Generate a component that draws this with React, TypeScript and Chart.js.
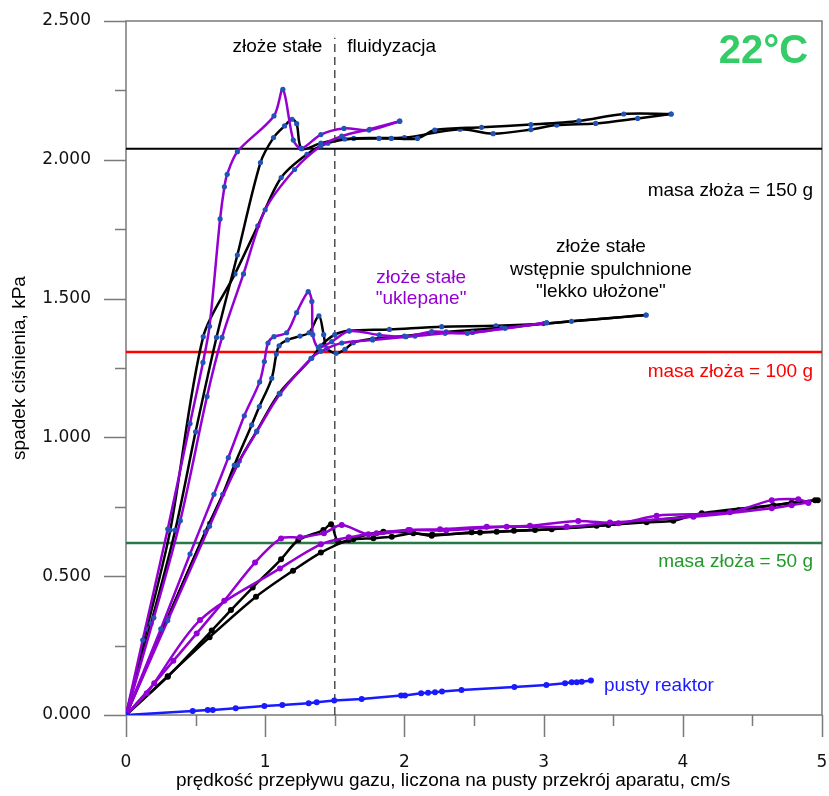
import React, { useEffect, useRef } from 'react';
import { Chart, registerables } from 'chart.js';

Chart.register(...registerables);

type P = [number, number];

// ---- axis ticks ----
const xMin = 0, xMax = 5, xStep = 0.5;
const yMin = 0, yMax = 2.5, yStep = 0.25;

// ---- reference levels (bed weight) ----
const level150 = 2.04;
const level100 = 1.308;
const level50 = 0.62;
const fluidX = 1.5;

// ---- 150 g ----
const p150Up: P[] = [[0,0],[0.12,0.27],[0.30,0.67],[0.46,1.05],[0.553,1.27],[0.60,1.40],[0.676,1.787],[0.707,1.903],[0.727,1.948],[0.80,2.029],[1.063,2.158],[1.127,2.254],[1.202,2.071],[1.26,2.041],[1.40,2.091],[1.566,2.113],[1.746,2.107],[1.966,2.139]];
const p150Down: P[] = [[1.966,2.139],[1.75,2.11],[1.55,2.085],[1.40,2.05],[1.211,1.965],[1.0,1.82],[0.844,1.589],[0.69,1.36],[0.582,1.147],[0.39,0.70],[0.2,0.35],[0,0]];
const b150Up: P[] = [[0,0],[0.18,0.33],[0.354,0.666],[0.50,1.02],[0.65,1.36],[0.80,1.657],[0.966,1.99],[1.06,2.08],[1.139,2.122],[1.193,2.146],[1.226,2.13],[1.262,2.04],[1.40,2.06],[1.571,2.075],[1.818,2.077],[1.906,2.077],[2.094,2.077],[2.218,2.107],[2.554,2.117],[2.909,2.127],[3.254,2.14],[3.576,2.165],[3.916,2.165]];
const b150Down: P[] = [[3.916,2.165],[3.676,2.149],[3.374,2.131],[3.094,2.125],[2.909,2.109],[2.638,2.094],[2.40,2.11],[2.00,2.08],[1.636,2.077],[1.45,2.06],[1.30,2.02],[1.115,1.936],[0.947,1.762],[0.783,1.589],[0.555,1.363],[0.318,0.666],[0.15,0.31],[0,0]];

// ---- 100 g ----
const p100Up: P[] = [[0,0],[0.25,0.31],[0.46,0.58],[0.632,0.795],[0.735,0.927],[0.85,1.078],[0.96,1.20],[0.994,1.273],[1.02,1.34],[1.063,1.363],[1.154,1.377],[1.226,1.45],[1.309,1.525],[1.335,1.49],[1.342,1.37],[1.382,1.324],[1.478,1.345],[1.604,1.383],[1.82,1.369],[2.011,1.363],[2.196,1.381],[2.452,1.375],[2.723,1.393],[3.022,1.413]];
const p100Down: P[] = [[3.022,1.413],[2.49,1.378],[2.292,1.375],[2.076,1.365],[1.772,1.351],[1.55,1.34],[1.40,1.31],[1.329,1.285],[1.106,1.156],[0.939,1.02],[0.80,0.90],[0.60,0.68],[0.30,0.34],[0,0]];
const b100Up: P[] = [[0,0],[0.30,0.35],[0.57,0.66],[0.695,0.795],[0.778,0.90],[0.903,1.045],[0.958,1.111],[1.047,1.213],[1.08,1.30],[1.10,1.33],[1.159,1.351],[1.25,1.365],[1.315,1.377],[1.386,1.438],[1.42,1.37],[1.442,1.321],[1.509,1.303],[1.573,1.317],[1.633,1.341],[1.772,1.355],[2.0,1.365],[2.3,1.38],[2.7,1.395],[3.2,1.418],[3.736,1.441]];
const b100Down: P[] = [[3.736,1.441],[3.0,1.41],[2.658,1.402],[2.268,1.399],[1.892,1.389],[1.602,1.384],[1.5,1.37],[1.40,1.33],[1.334,1.285],[1.101,1.159],[0.939,1.023],[0.814,0.915],[0.60,0.69],[0.30,0.35],[0,0]];

// ---- 50 g ----
const p50Up: P[] = [[0,0],[0.203,0.114],[0.34,0.195],[0.508,0.294],[0.706,0.412],[0.927,0.549],[1.114,0.636],[1.25,0.64],[1.422,0.655],[1.55,0.684],[1.741,0.651],[2.04,0.666],[2.256,0.669],[2.591,0.678],[2.902,0.682],[3.249,0.699],[3.537,0.691],[3.812,0.718],[4.339,0.73],[4.639,0.774],[4.83,0.777],[4.902,0.765]];
const p50Down: P[] = [[4.902,0.765],[4.782,0.756],[4.639,0.745],[4.076,0.714],[3.477,0.693],[3.166,0.678],[2.735,0.678],[2.3,0.665],[2.028,0.666],[1.80,0.655],[1.60,0.64],[1.40,0.615],[1.106,0.528],[0.532,0.342],[0.149,0.078],[0,0]];
const b50Up: P[] = [[0,0],[0.30,0.138],[0.616,0.304],[0.754,0.378],[0.91,0.459],[1.114,0.561],[1.238,0.63],[1.418,0.666],[1.473,0.687],[1.525,0.624],[1.633,0.633],[1.777,0.637],[1.909,0.642],[2.064,0.655],[2.196,0.646],[2.483,0.658],[2.663,0.66],[2.938,0.666],[3.381,0.682],[3.74,0.694],[3.932,0.70],[4.136,0.727],[4.65,0.756],[4.95,0.774]];
const b50Down: P[] = [[4.97,0.774],[4.782,0.765],[4.40,0.738],[3.465,0.684],[3.058,0.669],[2.787,0.664],[2.543,0.657],[2.20,0.65],[1.849,0.66],[1.60,0.63],[1.40,0.585],[1.2,0.52],[0.934,0.426],[0.6,0.28],[0.3,0.14],[0,0]];

// ---- empty reactor ----
const emptyReactor: P[] = [[0,0],[0.479,0.0144],[0.587,0.018],[0.623,0.018],[0.788,0.024],[0.994,0.032],[1.123,0.036],[1.312,0.042],[1.37,0.046],[1.496,0.052],[1.693,0.058],[1.976,0.07],[2.004,0.07],[2.12,0.078],[2.17,0.08],[2.22,0.082],[2.27,0.085],[2.41,0.09],[2.79,0.101],[3.02,0.108],[3.154,0.114],[3.202,0.118],[3.238,0.118],[3.274,0.12],[3.34,0.124]];

// ---- texts ----
const xTitle = 'prędkość przepływu gazu, liczona na pusty przekrój aparatu, cm/s';
const yTitle = 'spadek ciśnienia, kPa';
type Note = { text: string; x: number; y: number; color: string; align: CanvasTextAlign; font: string };
const F = '19px "Liberation Sans", Arial, sans-serif';
const notes: Note[] = [
  { text: 'złoże stałe', x: 1.41, y: 2.406, color: '#000', align: 'right', font: F },
  { text: 'fluidyzacja', x: 1.59, y: 2.406, color: '#000', align: 'left', font: F },
  { text: '22°C', x: 4.90, y: 2.388, color: '#33cc66', align: 'right', font: 'bold 40px "Liberation Sans", Arial, sans-serif' },
  { text: 'masa złoża = 150 g', x: 4.935, y: 1.888, color: '#000', align: 'right', font: F },
  { text: 'masa złoża = 100 g', x: 4.935, y: 1.236, color: '#ff0000', align: 'right', font: F },
  { text: 'masa złoża = 50 g', x: 4.935, y: 0.551, color: '#229a2a', align: 'right', font: F },
  { text: 'złoże stałe', x: 2.12, y: 1.574, color: '#9400d3', align: 'center', font: F },
  { text: '"uklepane"', x: 2.12, y: 1.499, color: '#9400d3', align: 'center', font: F },
  { text: 'złoże stałe', x: 3.412, y: 1.686, color: '#000', align: 'center', font: F },
  { text: 'wstępnie spulchnione', x: 3.412, y: 1.603, color: '#000', align: 'center', font: F },
  { text: '"lekko ułożone"', x: 3.412, y: 1.524, color: '#000', align: 'center', font: F },
  { text: 'pusty reaktor', x: 3.434, y: 0.104, color: '#1a1aff', align: 'left', font: F },
];

const PURPLE = '#9400d3';
const BLACK = '#000000';
const MARK = '#2254b8';
const AXIS = '#7a7a7a';

const toXY = (d: P[]) => d.map(([x, y]) => ({ x, y }));

const curve = (d: P[], color: string, mark: string, extra: any = {}) => ({
  data: toXY(d),
  borderColor: color,
  backgroundColor: color,
  borderWidth: 2.5,
  tension: 0.3,
  pointRadius: 2.6,
  pointBackgroundColor: mark,
  pointBorderWidth: 0,
  fill: false,
  ...extra,
});

const flat = (yv: number, color: string, width: number) => ({
  data: [{ x: xMin, y: yv }, { x: xMax, y: yv }],
  borderColor: color,
  borderWidth: width,
  pointRadius: 0,
  tension: 0,
  fill: false,
});

const decor = {
  id: 'decor',
  beforeDatasetsDraw(chart: any) {
    const { ctx, chartArea: a, scales } = chart;
    const x = scales.x, y = scales.y;
    ctx.save();
    ctx.strokeStyle = AXIS;
    ctx.lineWidth = 1.5;
    ctx.strokeRect(a.left, a.top, a.right - a.left, a.bottom - a.top);
    ctx.beginPath();
    x.ticks.forEach((t: any) => {
      const px = Math.round(x.getPixelForValue(t.value)) + 0.5;
      const major = Math.abs(t.value - Math.round(t.value)) < 1e-6;
      ctx.moveTo(px, a.bottom);
      ctx.lineTo(px, a.bottom + (major ? 22 : 11));
    });
    y.ticks.forEach((t: any) => {
      const py = Math.round(y.getPixelForValue(t.value)) + 0.5;
      const major = Math.abs(t.value * 2 - Math.round(t.value * 2)) < 1e-6;
      ctx.moveTo(a.left - (major ? 22 : 11), py);
      ctx.lineTo(a.left, py);
    });
    ctx.stroke();
    ctx.restore();
  },
  afterDatasetsDraw(chart: any) {
    const { ctx, chartArea: a, scales } = chart;
    const x = scales.x, y = scales.y;
    ctx.save();
    ctx.textBaseline = 'middle';
    notes.forEach((n) => {
      ctx.font = n.font;
      ctx.fillStyle = n.color;
      ctx.textAlign = n.align;
      ctx.fillText(n.text, x.getPixelForValue(n.x), y.getPixelForValue(n.y));
    });
    ctx.font = F;
    ctx.fillStyle = '#000';
    ctx.textAlign = 'center';
    ctx.fillText(xTitle, x.getPixelForValue(2.35), 781);
    ctx.translate(20, (a.top + a.bottom) / 2);
    ctx.rotate(-Math.PI / 2);
    ctx.fillText(yTitle, 0, 0);
    ctx.restore();
  },
};

export default function App() {
  const ref = useRef<HTMLCanvasElement | null>(null);
  useEffect(() => {
    document.body.style.margin = '0';
    const canvas = ref.current;
    if (!canvas) return;
    const datasets: any[] = [
      curve(emptyReactor, '#1a1aff', '#1a1aff', { tension: 0, pointRadius: 3 }),
      curve(p150Up, PURPLE, MARK),
      curve(p150Down, PURPLE, MARK),
      curve(p100Up, PURPLE, MARK),
      curve(p100Down, PURPLE, MARK),
      curve(p50Up, PURPLE, PURPLE, { pointRadius: 3 }),
      curve(p50Down, PURPLE, PURPLE, { pointRadius: 3 }),
      curve(b150Up, BLACK, MARK),
      curve(b150Down, BLACK, MARK),
      curve(b100Up, BLACK, MARK),
      curve(b100Down, BLACK, MARK),
      curve(b50Up, BLACK, BLACK, { pointRadius: 3 }),
      curve(b50Down, BLACK, BLACK, { pointRadius: 3 }),
      flat(level150, '#000000', 2),
      flat(level100, '#ff0000', 2.5),
      flat(level50, '#2a7a48', 2.5),
      {
        data: [{ x: fluidX, y: 0 }, { x: fluidX, y: 2.44 }],
        borderColor: '#333333',
        borderWidth: 1.3,
        borderDash: [8, 5],
        pointRadius: 0,
        tension: 0,
        fill: false,
      },
    ];
    const chart = new Chart(canvas, {
      type: 'line',
      data: { datasets },
      options: {
        animation: false,
        responsive: true,
        maintainAspectRatio: false,
        devicePixelRatio: 1,
        layout: { padding: { left: 0, right: 7, top: 21, bottom: 0 } },
        plugins: { legend: { display: false }, tooltip: { enabled: false } },
        scales: {
          x: {
            type: 'linear',
            min: xMin,
            max: xMax,
            grid: { display: false, drawTicks: true, tickLength: 37 },
            border: { display: false },
            ticks: {
              stepSize: xStep,
              autoSkip: false,
              maxRotation: 0,
              padding: 0,
              color: '#111',
              font: { family: '"DejaVu Sans", sans-serif', size: 17 },
              callback: (v: any) => (Math.abs(v - Math.round(v)) < 1e-6 ? String(Math.round(v)) : ''),
            },
            afterFit: (s: any) => { s.height = 81; },
          },
          y: {
            type: 'linear',
            min: yMin,
            max: yMax,
            grid: { display: false, drawTicks: true, tickLength: 35 },
            border: { display: false },
            ticks: {
              stepSize: yStep,
              autoSkip: false,
              padding: 0,
              color: '#111',
              font: { family: '"DejaVu Sans", sans-serif', size: 17 },
              callback: (v: any) => (Math.abs(v * 2 - Math.round(v * 2)) < 1e-6 ? Number(v).toFixed(3) : ''),
            },
            afterFit: (s: any) => { s.width = 126; },
          },
        },
      },
      plugins: [decor],
    });
    return () => chart.destroy();
  }, []);
  return (
    <div style={{ position: 'relative', width: 829, height: 796 }}>
      <canvas ref={ref} />
    </div>
  );
}
